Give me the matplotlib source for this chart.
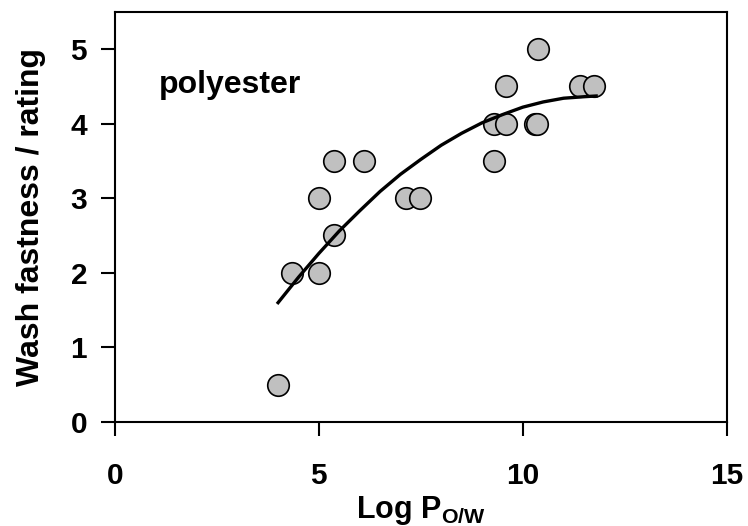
import numpy as np
import matplotlib
matplotlib.use('Agg')
import matplotlib.pyplot as plt

plt.rcParams['font.family'] = ['Liberation Sans', 'DejaVu Sans']
plt.rcParams['font.weight'] = 'bold'
plt.rcParams['mathtext.fontset'] = 'custom'
plt.rcParams['mathtext.bf'] = 'Liberation Sans:bold'
plt.rcParams['mathtext.rm'] = 'Liberation Sans:bold'

# measured dyes: log P(o/w) vs wash fastness rating
log_pow = [4.0, 4.33, 5.0, 5.0, 5.36, 5.36, 6.1, 7.13, 7.48,
           9.29, 9.29, 9.59, 9.59, 10.3, 10.35, 10.37, 11.4, 11.75]
rating = [0.5, 2.0, 2.0, 3.0, 2.5, 3.5, 3.5, 3.0, 3.0,
          3.5, 4.0, 4.0, 4.5, 4.0, 4.0, 5.0, 4.5, 4.5]

# trend line
trend_x = [4.0, 4.5, 5.0, 5.5, 6.0, 6.5, 7.0, 7.5, 8.0, 8.5,
           9.0, 9.5, 10.0, 10.5, 11.0, 11.5, 11.8]
trend_y = [1.60, 1.94, 2.26, 2.56, 2.83, 3.09, 3.32, 3.52, 3.71, 3.87,
           4.01, 4.12, 4.22, 4.29, 4.34, 4.36, 4.37]

x_ticks = [0, 5, 10, 15]
y_ticks = [0, 1, 2, 3, 4, 5]

fig = plt.figure(figsize=(7.48, 5.26), dpi=100)
ax = fig.add_axes([0.1537, 0.1977, 0.8178, 0.7801])

ax.scatter(log_pow, rating, s=15.5**2, c='#c0c0c0', edgecolors='black',
           linewidths=1.2, zorder=2)
ax.plot(trend_x, trend_y, color='black', lw=2.4, zorder=3)

ax.set_xlim(0, 15)
ax.set_ylim(0, 5.5)
ax.set_xticks(x_ticks)
ax.set_yticks(y_ticks)
ax.tick_params(axis='both', direction='out', length=10, width=1.5,
               labelsize=21.5)
ax.tick_params(axis='x', pad=19)
ax.tick_params(axis='y', pad=10)
for s in ax.spines.values():
    s.set_linewidth(1.5)

ax.set_ylabel('Wash fastness / rating', fontsize=23, fontweight='bold')
ax.yaxis.set_label_coords(-0.113, 0.5)
ax.set_xlabel(r'Log P$_{\mathbf{O/W}}$', fontsize=22, fontweight='bold')
ax.xaxis.set_label_coords(0.5, -0.175)

ax.text(1.07, 4.41, 'polyester', fontsize=23, fontweight='bold')

fig.savefig('out.png', dpi=100)
